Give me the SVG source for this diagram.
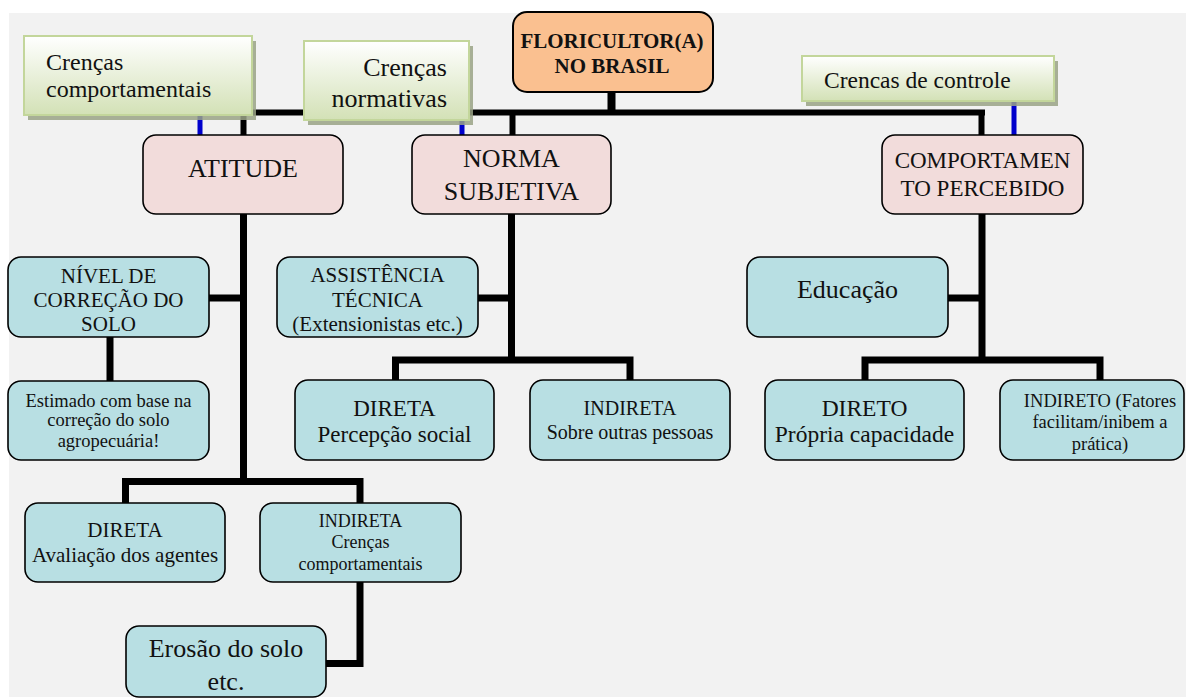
<svg xmlns="http://www.w3.org/2000/svg" width="1186" height="698" viewBox="0 0 1186 698" font-family="'Liberation Serif', Tinos, 'Times New Roman', 'DejaVu Serif', serif">
  <defs>
    <linearGradient id="greenFill" x1="0" y1="0" x2="0" y2="1">
      <stop offset="0" stop-color="#ffffff"/>
      <stop offset="1" stop-color="#d3e1b6"/>
    </linearGradient>
    <style>
      text { font-family: 'Liberation Serif', Tinos, 'Times New Roman', 'DejaVu Serif', serif; fill: #111; }
      .t { text-anchor: middle; }
      .b { font-weight: bold; }
      .root { fill: #fac090; stroke: #000; stroke-width: 2; }
      .main { fill: #f2dcdb; stroke: #000; stroke-width: 1.6; }
      .leaf { fill: #b8dfe3; stroke: #000; stroke-width: 1.6; }
      .belief { fill: url(#greenFill); stroke: #c3d69b; stroke-width: 2; }
      .shadow { fill: #9aa386; opacity: 0.85; }
      .wire { fill: none; stroke: #000; stroke-linejoin: miter; stroke-linecap: butt; }
      .blue { fill: none; stroke: #0000cc; stroke-width: 5; }
    </style>
  </defs>

  <!-- page background -->
  <rect x="0" y="0" width="1186" height="698" fill="#ffffff"/>
  <rect x="9" y="13" width="1177" height="684" fill="#f2f2f2"/>

  <!-- connectors -->
  <g id="connectors">
    <path class="wire" stroke-width="8" d="M611.5 92 V113"/>
    <path class="wire" stroke-width="6" d="M240 112.5 H985"/>
    <path class="wire" stroke-width="6" d="M243.5 112 V135"/>
    <path class="wire" stroke-width="6" d="M512.5 112 V135"/>
    <path class="wire" stroke-width="6" d="M981.5 112 V135"/>

    <!-- ATITUDE branch -->
    <path class="wire" stroke-width="7" d="M243.5 214 V485"/>
    <path class="wire" stroke-width="7" d="M209 298 H243.5"/>
    <path class="wire" stroke-width="7" d="M110 337 V381"/>
    <path class="wire" stroke-width="7" d="M125.5 503 V481.5 H360 V503"/>
    <path class="wire" stroke-width="7" d="M360 582 V663.5 H326"/>

    <!-- NORMA SUBJETIVA branch -->
    <path class="wire" stroke-width="7" d="M511.5 214 V363"/>
    <path class="wire" stroke-width="7" d="M478 298 H511.5"/>
    <path class="wire" stroke-width="7" d="M395.5 380 V360 H630 V380"/>

    <!-- COMPORTAMENTO branch -->
    <path class="wire" stroke-width="7" d="M982 214 V363"/>
    <path class="wire" stroke-width="7" d="M948 298 H982"/>
    <path class="wire" stroke-width="7" d="M865 380 V360 H1100 V380"/>

    <!-- belief links -->
    <path class="blue" d="M200 115 V135"/>
    <path class="blue" d="M462 120 V135"/>
    <path class="blue" d="M1014 101 V135"/>
  </g>

  <!-- belief boxes -->
  <g id="crencas-comportamentais">
    <rect class="shadow" x="28" y="41" width="228" height="79"/>
    <rect class="belief" x="24" y="36" width="228" height="79"/>
    <text font-size="24" x="46" y="70">Crenças</text>
    <text font-size="24" x="46" y="97">comportamentais</text>
  </g>
  <g id="crencas-normativas">
    <rect class="shadow" x="308" y="46" width="165" height="79"/>
    <rect class="belief" x="304" y="41" width="165" height="79"/>
    <text font-size="26" x="447" y="76" text-anchor="end">Crenças</text>
    <text font-size="26" x="447" y="107" text-anchor="end">normativas</text>
  </g>
  <g id="crencas-controle">
    <rect class="shadow" x="806" y="61" width="252" height="45"/>
    <rect class="belief" x="802" y="56" width="252" height="45"/>
    <text font-size="23.5" x="824" y="88">Crencas de controle</text>
  </g>

  <!-- root -->
  <g id="floricultor">
    <rect class="root" x="513" y="12" width="200" height="80" rx="14"/>
    <text class="t b" font-size="21" x="612" y="48">FLORICULTOR(A)</text>
    <text class="t b" font-size="21" x="612" y="73">NO BRASIL</text>
  </g>

  <!-- main constructs -->
  <g id="atitude">
    <rect class="main" x="143" y="135" width="200" height="79" rx="13"/>
    <text class="t" font-size="26" x="243" y="177">ATITUDE</text>
  </g>
  <g id="norma-subjetiva">
    <rect class="main" x="412" y="135" width="199" height="79" rx="13"/>
    <text class="t" font-size="26" x="511.5" y="167">NORMA</text>
    <text class="t" font-size="26" x="511.5" y="200">SUBJETIVA</text>
  </g>
  <g id="comportamento-percebido">
    <rect class="main" x="882" y="135" width="201" height="79" rx="13"/>
    <text class="t" font-size="23" x="982.5" y="168">COMPORTAMEN</text>
    <text class="t" font-size="23" x="982.5" y="196">TO PERCEBIDO</text>
  </g>

  <!-- ATITUDE children -->
  <g id="nivel-correcao">
    <rect class="leaf" x="8" y="257" width="201" height="80" rx="13"/>
    <text class="t" font-size="21" x="108.5" y="283">NÍVEL DE</text>
    <text class="t" font-size="21" x="108.5" y="307">CORREÇÃO DO</text>
    <text class="t" font-size="21" x="108.5" y="331">SOLO</text>
  </g>
  <g id="estimado">
    <rect class="leaf" x="8" y="381" width="201" height="79" rx="13"/>
    <text class="t" font-size="18.5" x="108.5" y="407">Estimado com base na</text>
    <text class="t" font-size="18.5" x="108.5" y="426">correção do solo</text>
    <text class="t" font-size="18.5" x="108.5" y="447">agropecuária!</text>
  </g>
  <g id="atitude-direta">
    <rect class="leaf" x="25" y="503" width="200" height="79" rx="13"/>
    <text class="t" font-size="21" x="125" y="537">DIRETA</text>
    <text class="t" font-size="21" x="125" y="562">Avaliação dos agentes</text>
  </g>
  <g id="atitude-indireta">
    <rect class="leaf" x="260" y="503" width="201" height="79" rx="13"/>
    <text class="t" font-size="18" x="360.5" y="527">INDIRETA</text>
    <text class="t" font-size="18" x="360.5" y="548">Crenças</text>
    <text class="t" font-size="18" x="360.5" y="570">comportamentais</text>
  </g>
  <g id="erosao">
    <rect class="leaf" x="126" y="626" width="200" height="71" rx="13"/>
    <text class="t" font-size="26" x="226" y="657">Erosão do solo</text>
    <text class="t" font-size="26" x="226" y="690">etc.</text>
  </g>

  <!-- NORMA SUBJETIVA children -->
  <g id="assistencia-tecnica">
    <rect class="leaf" x="277" y="257" width="201" height="80" rx="13"/>
    <text class="t" font-size="21" x="377.5" y="282">ASSISTÊNCIA</text>
    <text class="t" font-size="21" x="377.5" y="307">TÉCNICA</text>
    <text class="t" font-size="21" x="377.5" y="331">(Extensionistas etc.)</text>
  </g>
  <g id="norma-direta">
    <rect class="leaf" x="295" y="380" width="199" height="80" rx="13"/>
    <text class="t" font-size="23" x="394.5" y="416">DIRETA</text>
    <text class="t" font-size="23" x="394.5" y="442">Percepção social</text>
  </g>
  <g id="norma-indireta">
    <rect class="leaf" x="530" y="380" width="200" height="80" rx="13"/>
    <text class="t" font-size="20" x="630" y="415">INDIRETA</text>
    <text class="t" font-size="20" x="630" y="439">Sobre outras pessoas</text>
  </g>

  <!-- COMPORTAMENTO children -->
  <g id="educacao">
    <rect class="leaf" x="747" y="257" width="201" height="80" rx="13"/>
    <text class="t" font-size="26" x="847.5" y="298">Educação</text>
  </g>
  <g id="comportamento-direto">
    <rect class="leaf" x="765" y="380" width="199" height="80" rx="13"/>
    <text class="t" font-size="23.5" x="864.5" y="416">DIRETO</text>
    <text class="t" font-size="23.5" x="864.5" y="442">Própria capacidade</text>
  </g>
  <g id="comportamento-indireto">
    <rect class="leaf" x="1000" y="380" width="184" height="80" rx="13"/>
    <text class="t" font-size="18.5" x="1100" y="407">INDIRETO (Fatores</text>
    <text class="t" font-size="18.5" x="1100" y="428">facilitam/inibem a</text>
    <text class="t" font-size="18.5" x="1100" y="450">prática)</text>
  </g>
</svg>
